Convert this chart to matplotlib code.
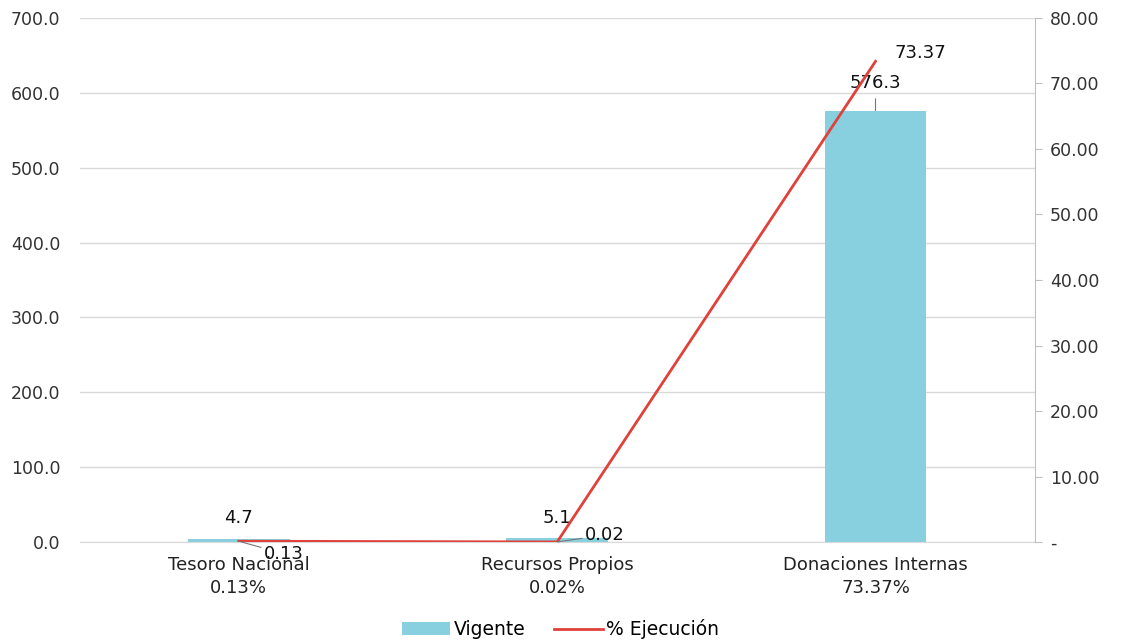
import matplotlib.pyplot as plt
from matplotlib.ticker import FuncFormatter

# données
categorias = ["Tesoro Nacional", "Recursos Propios", "Donaciones Internas"]
vigente = [4.7, 5.1, 576.3]
ejecucion = [0.13, 0.02, 73.37]

etiquetas = [f"{c}\n{e:.2f}%" for c, e in zip(categorias, ejecucion)]

plt.rcParams['font.family'] = ['DejaVu Sans']

fig = plt.figure(figsize=(11.21, 6.4), dpi=100)
ax = fig.add_axes([0.071, 0.153, 0.852, 0.819])
ax2 = ax.twinx()

x = list(range(len(categorias)))
ax.bar(x, vigente, width=0.32, color="#88d0df", label="Vigente", zorder=2)
ax2.plot(x, ejecucion, color="#e0413a", linewidth=2, label="% Ejecución", zorder=3)

ax.set_xlim(-0.5, 2.5)
ax.set_ylim(0, 700)
ax2.set_ylim(0, 80)
ax.set_yticks(range(0, 701, 100))
ax2.set_yticks(range(0, 81, 10))
ax.yaxis.set_major_formatter(FuncFormatter(lambda v, p: f"{v:.1f}"))
ax2.yaxis.set_major_formatter(FuncFormatter(lambda v, p: "-" if v == 0 else f"{v:.2f}"))

ax.grid(axis="y", color="#d9d9d9", linewidth=1, zorder=0)
ax.set_axisbelow(True)
ax.set_xticks(x)
ax.set_xticklabels(etiquetas, fontsize=13, color="#222222", linespacing=1.35)
ax.tick_params(axis="x", length=0, pad=10)
ax.tick_params(axis="y", length=0, labelsize=12.5, labelcolor="#333333", pad=14)
ax2.tick_params(axis="y", length=5, color="#bfbfbf", labelsize=12.5, labelcolor="#333333", pad=6)

for a in (ax, ax2):
    for s in ("top", "left"):
        a.spines[s].set_visible(False)
ax.spines["right"].set_visible(False)
ax.spines["bottom"].set_color("#d9d9d9")
ax2.spines["bottom"].set_visible(False)
ax2.spines["right"].set_color("#bfbfbf")

# étiquettes des barres
decal_barres = [8, 8, 13]
for i, v in enumerate(vigente):
    ax.annotate(f"{v:.1f}", (i, v), xytext=(0, decal_barres[i]), textcoords="offset points",
                ha="center", va="bottom", fontsize=13, color="#111111")

# étiquettes de la ligne
decal = [(18, -9), (20, 5), (14, 6)]
for i, e in enumerate(ejecucion):
    ax2.annotate(f"{e:.2f}", (i, e), xytext=decal[i], textcoords="offset points",
                 ha="left", va="center", fontsize=13, color="#111111",
                 arrowprops=dict(arrowstyle="-", color="#777777", lw=0.8,
                                 shrinkA=0, shrinkB=0) if i < 2 else None)
ax.annotate("", (2, 576.3), xytext=(2, 592), textcoords="data",
            arrowprops=dict(arrowstyle="-", color="#777777", lw=0.8, shrinkA=0, shrinkB=0))

h1, l1 = ax.get_legend_handles_labels()
h2, l2 = ax2.get_legend_handles_labels()
fig.legend(h1 + h2, l1 + l2, loc="lower center", ncol=2, frameon=False,
           fontsize=13.5, bbox_to_anchor=(0.5, -0.025), handlelength=2.6, columnspacing=1.5,
           handletextpad=0.2)

fig.savefig("out.png", dpi=100)
